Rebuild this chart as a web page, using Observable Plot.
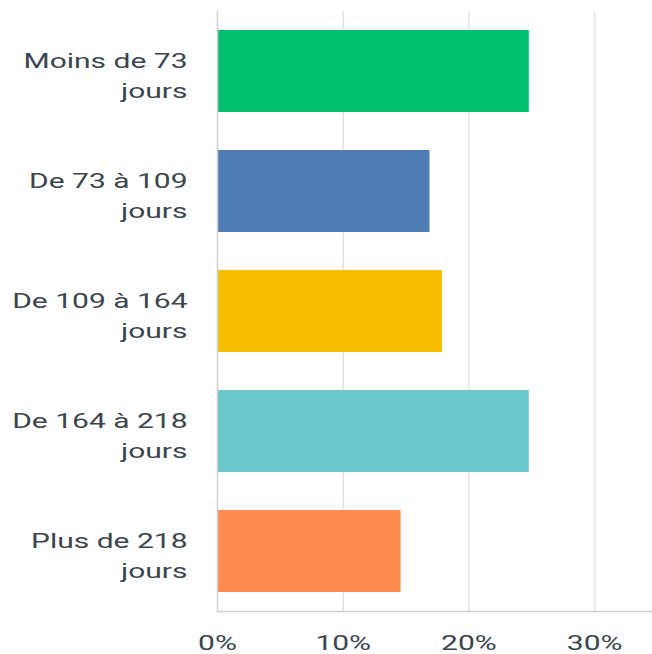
<!DOCTYPE html>
<html>
<head>
<meta charset="utf-8">
<script src="https://cdn.jsdelivr.net/npm/d3@7"></script>
<script src="https://cdn.jsdelivr.net/npm/@observablehq/plot@0.6"></script>
<style>
  html, body { margin: 0; padding: 0; background: #fff; }
  #chart svg { display: block; }
</style>
</head>
<body>
<div id="chart"></div>
<script>
const categories = ["Moins de 73\njours", "De 73 à 109\njours", "De 109 à 164\njours", "De 164 à 218\njours", "Plus de 218\njours"];
const values = [24.8, 16.9, 17.9, 24.8, 14.6];
const colors = ["#00bf6f", "#507cb6", "#f9be00", "#6bc8cd", "#ff8b4f"];
const xTicks = [0, 10, 20, 30];

const data = categories.map((c, i) => ({category: c, value: values[i], color: colors[i]}));

const chart = Plot.plot({
  width: 652,
  height: 654,
  marginLeft: 217,
  marginRight: 0,
  marginTop: 11,
  marginBottom: 43,
  style: {fontFamily: "Roboto, sans-serif", fontSize: "20px", fontWeight: 400, color: "#3a4550", background: "#fff"},
  x: {domain: [0, 34.6], ticks: xTicks, tickFormat: d => d + "%", label: null},
  y: {domain: categories, paddingInner: 0.32, paddingOuter: 0.16, label: null, axis: null},
  color: {type: "identity"},
  marks: [
    Plot.gridX(xTicks.filter(d => d > 0), {stroke: "#e3e3e3", strokeOpacity: 1, strokeWidth: 1.5}),
    Plot.barX(data, {x: "value", y: "category", fill: "color"}),
    Plot.ruleX([0], {stroke: "#cfcfcf", strokeWidth: 1.5}),
    Plot.frame({anchor: "bottom", stroke: "#cfcfcf", strokeWidth: 1.5}),
    Plot.axisX({ticks: xTicks, tickFormat: d => d + "%", tickSize: 0, tickPadding: 24, fill: "#3a4550", label: null, fontSize: 20}),
    Plot.text(data, {x: 0, y: "category", text: "category", textAnchor: "end", dx: -30, dy: 2, lineHeight: 1.5, fill: "#3a4550", fontSize: 20})
  ]
});
// widen the glyphs horizontally around each text's anchor point to match the reference's wide lettering
chart.querySelectorAll("text").forEach(t => {
  const tr = t.getAttribute("transform");
  if (tr && tr.includes("translate")) t.setAttribute("transform", tr + " scale(1.5,1)");
});
document.getElementById("chart").appendChild(chart);
</script>
</body>
</html>
